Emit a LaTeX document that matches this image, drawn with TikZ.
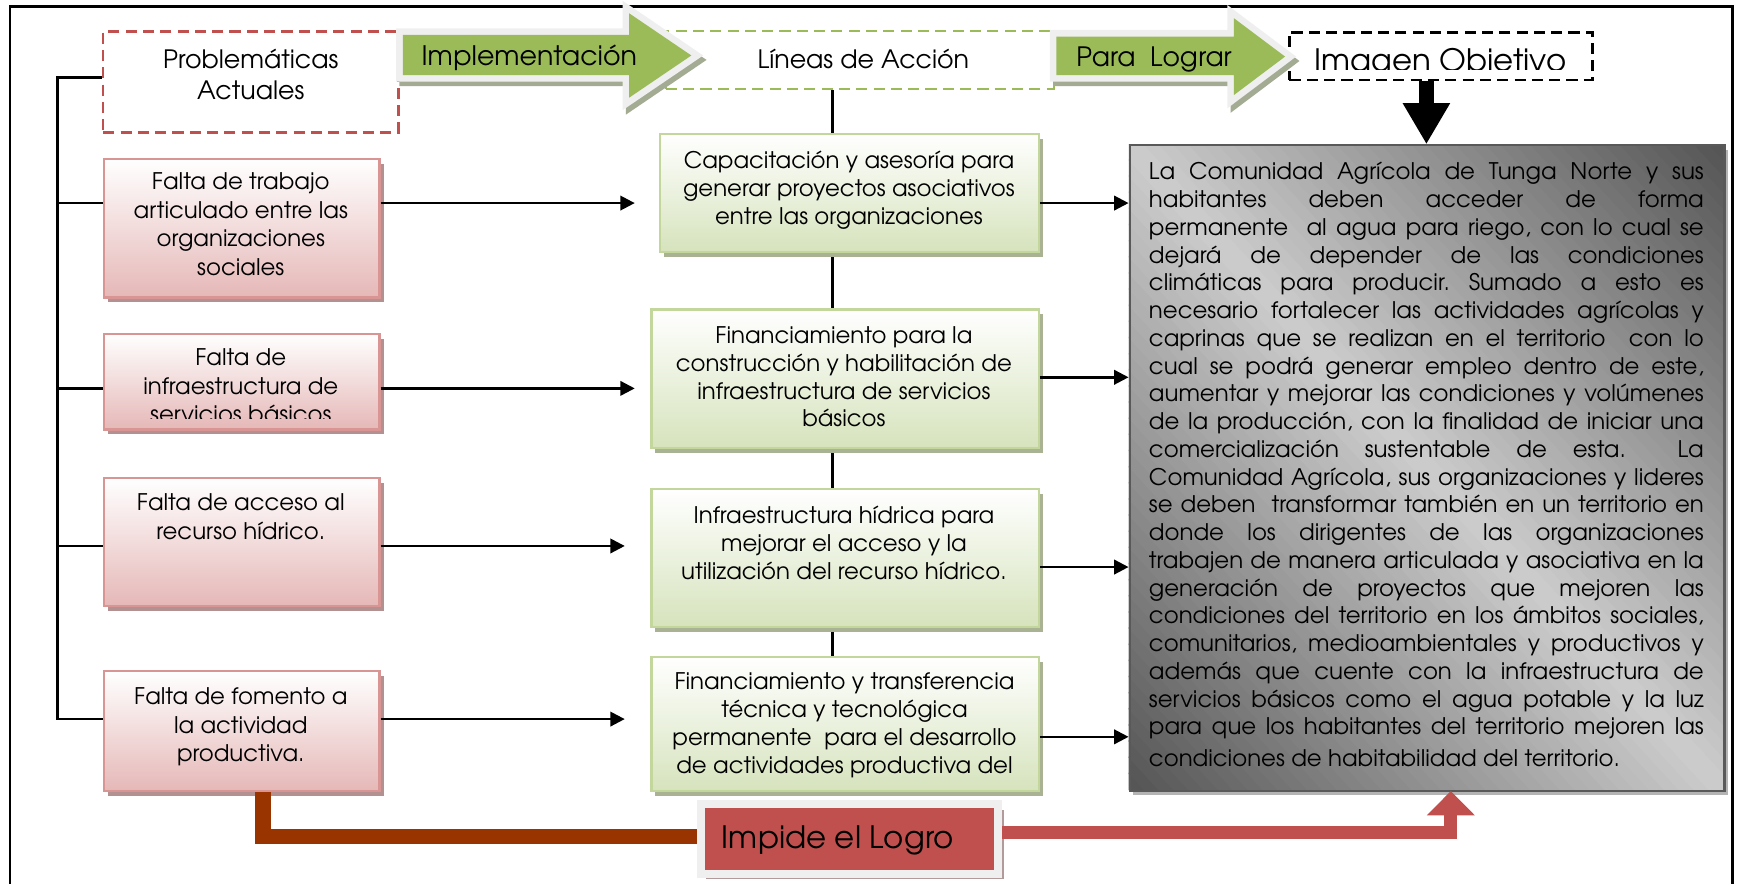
\documentclass[tikz,border=0pt]{standalone}
\usepackage{fontspec}
\setmainfont{texgyreadventor-regular.otf}
\usetikzlibrary{shadows,arrows.meta,calc}
\frenchspacing
\definecolor{pinkborder}{HTML}{D99594}
\definecolor{pinkfill}{HTML}{E5B8B7}
\definecolor{pinkshadow}{HTML}{B39191}
\definecolor{grnborder}{HTML}{C3D69B}
\definecolor{grnfill}{HTML}{D6E3BC}
\definecolor{grnshadow}{HTML}{A9B292}
\definecolor{arrowgreen}{HTML}{9BBB59}
\definecolor{bevel}{HTML}{EFEFEF}
\definecolor{arrshadow}{HTML}{A3AB93}
\definecolor{redbox}{HTML}{C0504D}
\definecolor{darkred}{HTML}{993300}
\definecolor{objdark}{HTML}{555555}
\definecolor{objlight}{HTML}{CDCDCD}
\definecolor{objborder}{HTML}{595959}
\definecolor{objshadow}{HTML}{B4B4B4}
\definecolor{impshadow}{HTML}{B39A9A}
\newcommand\jl[1]{{\spaceskip=0pt\xspaceskip=0pt\makebox[250pt][s]{#1}}\\}
\begin{document}
\begin{tikzpicture}[x=0.5pt,y=-0.5pt,
  conn/.style={line width=1.1pt,draw=black},
  arr/.style={conn,-{Triangle[length=6.5pt,width=6.5pt]}},
  pinkbox/.style={draw=pinkborder,line width=1pt,top color=white,bottom color=pinkfill,
     drop shadow={shadow xshift=1.8pt,shadow yshift=-2.2pt,fill=pinkshadow,opacity=1},
     anchor=north west,inner sep=0pt,minimum width=124pt},
  grnbox/.style={draw=grnborder,line width=1pt,top color=white,bottom color=grnfill,
     drop shadow={shadow xshift=1.8pt,shadow yshift=-2.2pt,fill=grnshadow,opacity=1},
     anchor=north west,inner sep=0pt},
  objbox/.style={anchor=north west,inner sep=0pt,minimum width=268pt,minimum height=291pt},
  ptext/.style={align=center,inner sep=0pt,anchor=north,font=\fontsize{10.3}{12.8}\selectfont},
  gtext/.style={align=center,inner sep=0pt,anchor=north,font=\fontsize{10.3}{12.5}\selectfont},
  hdr/.style={inner sep=0pt,align=center},
  dashbox/.style={line width=1.1pt,dash pattern=on 5pt off 2.8pt,inner sep=0pt},
  halo/.style={draw=bevel,fill=arrowgreen,line width=6pt,line join=miter},
  halosh/.style={draw=arrshadow,fill=arrshadow,line width=6pt,line join=miter},
]
\useasboundingbox (0,0) rectangle (1568,796);
\clip (0,0) rectangle (1568,796);

% outer frame
\draw[line width=1.2pt] (9,6) rectangle (1561,840);

% level coordinates
\coordinate (yTop) at (0,70);
\coordinate (yA) at (0,183);
\coordinate (yB) at (0,350);
\coordinate (yC) at (0,492);
\coordinate (yD) at (0,648);
\coordinate (yG2) at (0,340);
\coordinate (yG3) at (0,511);
\coordinate (yG4) at (0,664);
\coordinate (xL) at (52,0);
\coordinate (xV) at (750,0);
\coordinate (xDk) at (237,0);
\coordinate (yDk) at (0,754);
\coordinate (yRd) at (0,750);
\coordinate (eA) at (572,183);
\coordinate (eB) at (572,350);
\coordinate (eC) at (563,492);
\coordinate (eD) at (563,648);

% header boxes
\node[dashbox,draw=redbox,minimum width=133pt,minimum height=45.5pt] (prob) at (226,74) {};
\node[hdr,font=\fontsize{11.4}{14}\selectfont] (probt) at (226,67) {Problemáticas\\Actuales};
\node[dashbox,draw=arrowgreen,minimum width=175pt,minimum height=26pt] (lin) at (775,54) {};
\node[hdr,anchor=base,font=\fontsize{11.4}{14}\selectfont] (lint) at (778,61.5) {Líneas de Acción};
\node[dashbox,draw=black,line width=1.2pt,minimum width=136.5pt,minimum height=21.5pt] (img) at (1298.5,50.5) {};
\begin{scope}
  \clip (1164,30) rectangle (1433,62.5);
  \node[hdr,anchor=base,font=\fontsize{13.9}{16}\selectfont] (imgt) at (1298,64) {Imagen Objetivo};
\end{scope}

% green block arrows
\path[halosh,shift={(3,4)}] (363,31.5) -- (567,31.5) -- (567,12) -- (623,50) -- (567,88) -- (567,67.6) -- (363,67.6) -- cycle;
\path[halo] (363,31.5) -- (567,31.5) -- (567,12) -- (623,50) -- (567,88) -- (567,67.6) -- (363,67.6) -- cycle;
\fill[arrowgreen] (363,31.5) -- (567,31.5) -- (567,12) -- (623,50) -- (567,88) -- (567,67.6) -- (363,67.6) -- cycle;
\node[hdr,anchor=base,font=\fontsize{12.1}{14}\selectfont] (implt) at (477,58.6) {Implementación};

\path[halosh,shift={(3,4)}] (952,33) -- (1112,33) -- (1112,16.5) -- (1158,51) -- (1112,85.6) -- (1112,67.6) -- (952,67.6) -- cycle;
\path[halo] (952,33) -- (1112,33) -- (1112,16.5) -- (1158,51) -- (1112,85.6) -- (1112,67.6) -- (952,67.6) -- cycle;
\fill[arrowgreen] (952,33) -- (1112,33) -- (1112,16.5) -- (1158,51) -- (1112,85.6) -- (1112,67.6) -- (952,67.6) -- cycle;
\node[hdr,anchor=base,font=\fontsize{12}{14}\selectfont] (parat) at (1040,60) {Para\ \ Lograr};

% problem boxes
\node[pinkbox,minimum height=62.5pt] (r1) at (93,142) {};
\node[pinkbox,minimum height=43pt] (r2) at (93,300) {};
\node[pinkbox,minimum height=57.5pt] (r3) at (93,430) {};
\node[pinkbox,minimum height=54pt] (r4) at (93,604) {};
\node[ptext] (r1t) at (217,155.5) {Falta de trabajo\\articulado entre las\\organizaciones\\sociales};
\begin{scope}
  \clip (94,301) rectangle (340,377);
  \node[ptext] (r2t) at (217,314) {Falta de\\infraestructura de\\servicios básicos};
\end{scope}
\node[ptext] (r3t) at (217,444.5) {Falta de acceso al\\recurso hídrico.};
\node[ptext] (r4t) at (217,619.5) {Falta de fomento a\\la actividad\\productiva.};

% left bracket
\draw[conn] (prob.west |- yTop) -- (xL |- yTop) -- (xL |- yD) -- (r4.west |- yD);
\draw[conn] (xL |- yA) -- (r1.west |- yA);
\draw[conn] (xL |- yB) -- (r2.west |- yB);
\draw[conn] (xL |- yC) -- (r3.west |- yC);

% vertical spine of lines of action
\draw[conn] (lin.south -| xV) -- (xV |- 0,591);

% action boxes
\node[grnbox,minimum width=170.5pt,minimum height=53pt] (g1) at (594,120) {};
\node[grnbox,minimum width=174.5pt,minimum height=62.5pt] (g2) at (586,278) {};
\node[grnbox,minimum width=174.5pt,minimum height=62pt] (g3) at (586,440) {};
\node[grnbox,minimum width=174.5pt,minimum height=60.5pt] (g4) at (586,591) {};
\node[gtext] (g1t) at (765,136) {Capacitación y asesoría para\\generar proyectos asociativos\\entre las organizaciones};
\node[gtext] (g2t) at (760.5,294) {Financiamiento para la\\construcción y habilitación de\\infraestructura de servicios\\básicos};
\node[gtext] (g3t) at (760.5,456) {Infraestructura hídrica para\\mejorar el acceso y la\\utilización del recurso hídrico.};
\node[gtext] (g4t) at (761,606) {Financiamiento y transferencia\\técnica y tecnológica\\permanente\ \ para el desarrollo\\de actividades productiva del};

% arrows problem -> action
\draw[arr] (r1.east |- yA) -- (eA);
\draw[arr] (r2.east |- yB) -- (eB);
\draw[arr] (r3.east |- yC) -- (eC);
\draw[arr] (r4.east |- yD) -- (eD);

% objective box: shadow + diagonal gradient (dark corners top-right / bottom-left)
\node[objbox,fill=objlight,
      drop shadow={shadow xshift=1.8pt,shadow yshift=-2.2pt,fill=objshadow,opacity=1}] (obj) at (1017,130) {};
\begin{scope}
  \clip (obj.south west) rectangle (obj.north east);
  \foreach \i in {0,...,79}{
    \pgfmathsetmacro\ta{-394.2+\i*9.855}
    \pgfmathsetmacro\tb{\ta+10.6}
    \pgfmathsetmacro\tm{\ta+4.93}
    \pgfmathtruncatemacro\pc{100-abs(\tm)/3.942}
    \fill[objlight!\pc!objdark]
      ($(obj.center)+({\ta*0.7356-338.7},{-\ta*0.6774-367.8})$) --
      ($(obj.center)+({\ta*0.7356+338.7},{-\ta*0.6774+367.8})$) --
      ($(obj.center)+({\tb*0.7356+338.7},{-\tb*0.6774+367.8})$) --
      ($(obj.center)+({\tb*0.7356-338.7},{-\tb*0.6774-367.8})$) -- cycle;
  }
\end{scope}
\node[objbox,draw=objborder,line width=1pt] (objframe) at (1017,130) {};
\node[anchor=north west,inner sep=0pt,text width=250pt,align=justify,font=\fontsize{10.3}{12.5}\selectfont] (objt) at (1035,146) {%
\jl{La Comunidad Agrícola de Tunga Norte y sus}%
\jl{habitantes deben acceder de forma}%
\jl{permanente\ \ al agua para riego, con lo cual se}%
\jl{dejará de depender de las condiciones}%
\jl{climáticas para producir. Sumado a esto es}%
\jl{necesario fortalecer las actividades agrícolas y}%
\jl{caprinas que se realizan en el territorio\ \ con lo}%
\jl{cual se podrá generar empleo dentro de este,}%
\jl{aumentar y mejorar las condiciones y volúmenes}%
\jl{de la producción, con la finalidad de iniciar una}%
\jl{comercialización sustentable de esta.\ \ La}%
\jl{Comunidad Agrícola, sus organizaciones y lideres}%
\jl{se deben\ \ transformar también en un territorio en}%
\jl{donde los dirigentes de las organizaciones}%
\jl{trabajen de manera articulada y asociativa en la}%
\jl{generación de proyectos que mejoren las}%
\jl{condiciones del territorio en los ámbitos sociales,}%
\jl{comunitarios, medioambientales y productivos y}%
\jl{además que cuente con la infraestructura de}%
\jl{servicios básicos como el agua potable y la luz}%
{\spaceskip=0pt\xspaceskip=0pt\makebox[250pt][s]{para que los habitantes del territorio mejoren las}}\\[2pt]
condiciones de habitabilidad del territorio.};

% arrows action -> objective
\draw[arr] (g1.east |- yA) -- (obj.west |- yA);
\draw[arr] (g2.east |- yG2) -- (obj.west |- yG2);
\draw[arr] (g3.east |- yG3) -- (obj.west |- yG3);
\draw[arr] (g4.east |- yG4) -- (obj.west |- yG4);

% black down arrow
\draw[line width=7pt,-{Triangle[length=18.5pt,width=20pt]}] (img.south -| obj.north) -- (obj.north);

% impide el logro
\draw[line width=7pt,darkred] (r4.south -| xDk) |- (yDk -| 631,0);
\node[draw=bevel,line width=3.5pt,fill=redbox,minimum width=134pt,minimum height=31.5pt,inner sep=0pt,
      drop shadow={shadow xshift=2.5pt,shadow yshift=-2.5pt,fill=impshadow,opacity=1}] (imp) at (765.5,756) {};
\node[hdr,font=\fontsize{13.9}{16}\selectfont] (impt) at (755,757) {Impide el Logro};
\draw[line width=6pt,redbox,line join=miter,-{Triangle[length=11pt,width=21pt]}] (imp.east |- yRd) -| ([xshift=11pt]obj.south);
\end{tikzpicture}
\end{document}
